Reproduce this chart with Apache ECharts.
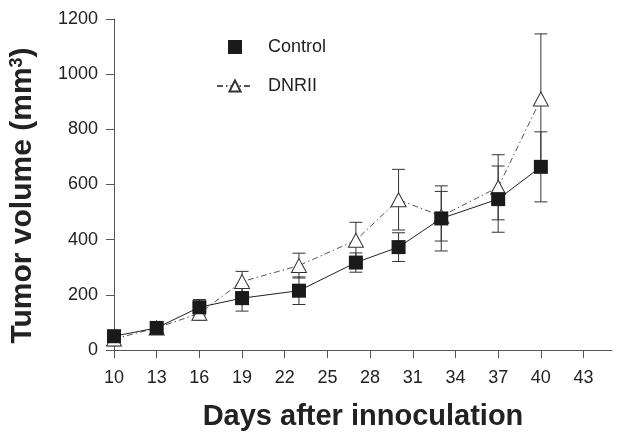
<!DOCTYPE html>
<html>
<head>
<meta charset="utf-8">
<script src="https://cdn.jsdelivr.net/npm/echarts@6/dist/echarts.min.js"></script>
<style>html,body{margin:0;padding:0;background:#fff}#c{width:624px;height:446px}</style>
</head>
<body>
<div id="c"></div>
<script>
const days = [10, 13, 16, 19, 23, 27, 30, 33, 37, 40];
const xTicks = [10, 13, 16, 19, 22, 25, 28, 31, 34, 37, 40, 43];
const controlMean = [50, 80, 155, 188, 215, 317, 373, 477, 547, 664];
const controlErr = [15, 15, 28, 47, 50, 35, 52, 118, 120, 127];
const dnriiMean = [40, 80, 133, 248, 306, 398, 545, 485, 590, 910];
const dnriiErr = [25, 15, 25, 37, 45, 65, 110, 90, 118, 236];

const font = '"Liberation Sans", Arial, sans-serif';
const axisColor = '#555';

function pts(mean) { return days.map((d, i) => [d, mean[i]]); }
function errs(mean, err) { return days.map((d, i) => [d, mean[i] - err[i], mean[i] + err[i]]); }

function errRender(params, api) {
  const x = api.value(0);
  const lo = api.coord([x, api.value(1)]);
  const hi = api.coord([x, api.value(2)]);
  const w = 6.5;
  const st = { stroke: '#333', lineWidth: 1 };
  return {
    type: 'group',
    children: [
      { type: 'line', shape: { x1: lo[0], y1: lo[1], x2: hi[0], y2: hi[1] }, style: st },
      { type: 'line', shape: { x1: lo[0] - w, y1: lo[1], x2: lo[0] + w, y2: lo[1] }, style: st },
      { type: 'line', shape: { x1: hi[0] - w, y1: hi[1], x2: hi[0] + w, y2: hi[1] }, style: st }
    ]
  };
}

const chart = echarts.init(document.getElementById('c'), null, { renderer: 'canvas' });
chart.setOption({
  animation: false,
  backgroundColor: '#fff',
  textStyle: { fontFamily: font },
  grid: { left: 111, right: 12, top: 19, bottom: 96 },
  legend: {
    orient: 'vertical',
    left: 211,
    top: 33,
    itemGap: 21,
    itemWidth: 36,
    itemHeight: 14,
    textStyle: { fontFamily: font, fontSize: 18, color: '#222', padding: [0, 0, 0, 10] },
    data: [
      { name: 'Control', icon: 'path://M11,0 L25,0 L25,14 L11,14 Z' },
      { name: 'DNRII' }
    ]
  },
  xAxis: {
    type: 'value',
    min: 10,
    max: 45,
    name: 'Days after innoculation',
    nameLocation: 'middle',
    nameGap: 52,
    nameTextStyle: { fontFamily: font, fontSize: 29, fontWeight: 'bold', color: '#222' },
    axisLine: { lineStyle: { color: axisColor, width: 1 } },
    axisTick: { length: 8, lineStyle: { color: axisColor }, customValues: xTicks },
    axisLabel: { fontFamily: font, fontSize: 18, color: '#222', margin: 19, customValues: xTicks },
    splitLine: { show: false }
  },
  yAxis: {
    type: 'value',
    min: 0,
    max: 1200,
    interval: 200,
    name: '{a|Tumor volume (mm}{s|3}{a|)}',
    nameLocation: 'middle',
    nameGap: 76,
    nameTextStyle: {
      padding: [0, 22, 0, 0],
      rich: {
        a: { fontFamily: font, fontSize: 30, fontWeight: 'bold', color: '#222' },
        s: { fontFamily: font, fontSize: 18, fontWeight: 'bold', color: '#222', verticalAlign: 'top', padding: [0, 0, 12, 0] }
      }
    },
    axisLine: { show: true, lineStyle: { color: axisColor, width: 1 } },
    axisTick: { show: true, length: 8, lineStyle: { color: axisColor } },
    axisLabel: { fontFamily: font, fontSize: 18, color: '#222', margin: 16, formatter: v => String(v) },
    splitLine: { show: false }
  },
  series: [
    {
      type: 'custom',
      name: 'dnriiErr',
      renderItem: errRender,
      data: errs(dnriiMean, dnriiErr),
      z: 1,
      silent: true
    },
    {
      type: 'custom',
      name: 'controlErr',
      renderItem: errRender,
      data: errs(controlMean, controlErr),
      z: 1,
      silent: true
    },
    {
      type: 'line',
      name: 'DNRII',
      data: pts(dnriiMean),
      symbol: 'triangle',
      symbolSize: [15, 14],
      showAllSymbol: true,
      lineStyle: { color: '#555', width: 1, type: [6, 3, 1.5, 3] },
      itemStyle: { color: '#fff', borderColor: '#333', borderWidth: 1 },
      z: 2
    },
    {
      type: 'line',
      name: 'Control',
      data: pts(controlMean),
      symbol: 'rect',
      symbolSize: 14,
      showAllSymbol: true,
      lineStyle: { color: '#222', width: 1 },
      itemStyle: { color: '#1a1a1a', borderColor: '#1a1a1a', borderWidth: 0 },
      z: 3
    }
  ]
});
</script>
</body>
</html>
